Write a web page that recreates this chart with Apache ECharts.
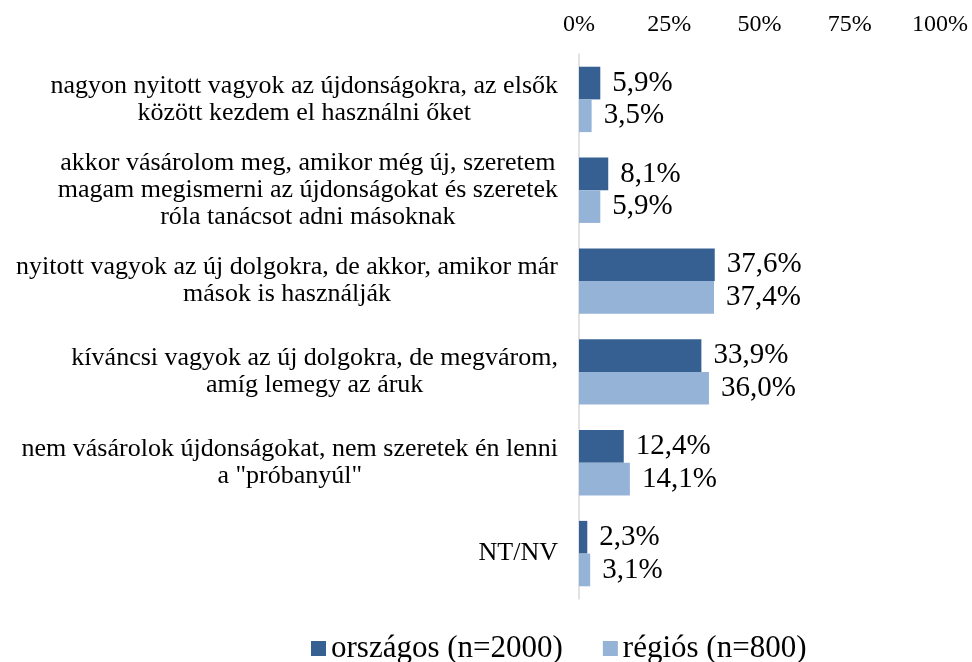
<!DOCTYPE html>
<html>
<head>
<meta charset="utf-8">
<script src="https://cdn.jsdelivr.net/npm/echarts@6/dist/echarts.min.js"></script>
<style>
  html, body { margin: 0; padding: 0; background: #fff; }
  #chart { width: 972px; height: 662px; }
</style>
</head>
<body>
<div id="chart"></div>
<script>
// kategóriák (fentről lefelé)
const categories = [
  'nagyon nyitott vagyok az újdonságokra, az elsők\nközött kezdem el használni őket',
  'akkor vásárolom meg, amikor még új, szeretem\nmagam megismerni az újdonságokat és szeretek\nróla tanácsot adni másoknak',
  'nyitott vagyok az új dolgokra, de akkor, amikor már\nmások is használják',
  'kíváncsi vagyok az új dolgokra, de megvárom,\namíg lemegy az áruk',
  'nem vásárolok újdonságokat, nem szeretek én lenni\na "próbanyúl"',
  'NT/NV'
]
const seriesNames = ['országos (n=2000)', 'régiós (n=800)']
const orszagos = [5.9, 8.1, 37.6, 33.9, 12.4, 2.3]
const regios = [3.5, 5.9, 37.4, 36.0, 14.1, 3.1]
const xTicks = [0, 25, 50, 75, 100]

const font = '"Liberation Serif", "Times New Roman", serif'
const colors = ['#376092', '#95B3D7']

const pct = v => v.toFixed(1).replace('.', ',') + '%'

const barLabel = {
  show: true,
  position: 'right',
  distance: 12,
  fontFamily: font,
  fontSize: 29,
  color: '#000',
  formatter: p => pct(p.value)
}

const chart = echarts.init(document.getElementById('chart'))
chart.setOption({
  animation: false,
  textStyle: { fontFamily: font, color: '#000' },
  grid: { left: 579, right: 32, top: 54, bottom: 63 },
  legend: {
    data: seriesNames,
    bottom: -7,
    left: 306,
    icon: 'rect',
    itemWidth: 15,
    itemHeight: 15,
    itemGap: 40,
    textStyle: { fontFamily: font, fontSize: 31, color: '#000' }
  },
  xAxis: {
    type: 'value',
    position: 'top',
    min: xTicks[0],
    max: xTicks[xTicks.length - 1],
    interval: xTicks[1] - xTicks[0],
    axisLine: { show: false },
    axisTick: { show: false },
    splitLine: { show: false },
    axisLabel: {
      margin: 17,
      fontFamily: font,
      fontSize: 24,
      color: '#000',
      formatter: '{value}%'
    }
  },
  yAxis: {
    type: 'category',
    inverse: true,
    data: categories,
    axisLine: { show: true, lineStyle: { color: '#D9D9D9', width: 1.5 } },
    axisTick: { show: false },
    axisLabel: {
      margin: 21,
      align: 'right',
      color: '#000',
      // sorok középre igazítva, a blokk jobbra
      formatter: v => v.split('\n').map(s => '{c|' + s + '}').join('\n'),
      rich: {
        c: {
          align: 'center',
          fontFamily: font,
          fontSize: 26,
          lineHeight: 27,
          color: '#000'
        }
      }
    }
  },
  series: [
    {
      name: seriesNames[0],
      type: 'bar',
      data: orszagos,
      barGap: '0%',
      barCategoryGap: '28%',
      itemStyle: { color: colors[0] },
      label: barLabel
    },
    {
      name: seriesNames[1],
      type: 'bar',
      data: regios,
      barGap: '0%',
      barCategoryGap: '28%',
      itemStyle: { color: colors[1] },
      label: barLabel
    }
  ]
})
</script>
</body>
</html>
